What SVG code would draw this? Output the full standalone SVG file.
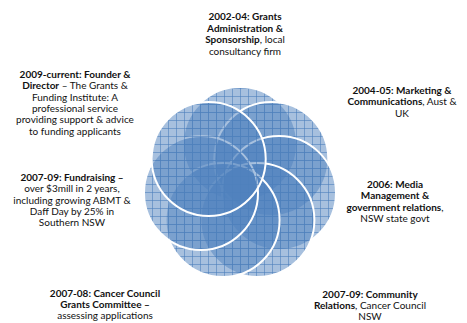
<svg xmlns="http://www.w3.org/2000/svg" width="467" height="323" viewBox="0 0 467 323">
<defs>
<pattern id="grid" width="8" height="8" patternUnits="userSpaceOnUse">
<rect width="8" height="8" fill="#4f81bd" fill-opacity="0.5"/>
<path d="M0 0.5H8M0.5 0V8" stroke="#4f81bd" stroke-opacity="0.6" stroke-width="1"/>
</pattern>
</defs>
<style>
.c{fill:url(#grid);stroke:#fff;stroke-width:2}
text{font-family:Lato,"Liberation Sans",sans-serif;font-size:10px;fill:#111;text-anchor:middle}
.b{font-weight:bold}
</style>
<g id="node-1"><circle class="c" cx="240" cy="144" r="57"/>
<text x="245" y="20"><tspan class="b">2002-04: Grants</tspan><tspan class="b" x="245" dy="11.5">Administration &amp;</tspan><tspan x="245" dy="11.5"><tspan class="b">Sponsorship</tspan>, local</tspan><tspan x="245" dy="11.5">consultancy firm</tspan></text></g>
<g id="node-2"><circle class="c" cx="271.3" cy="159" r="57"/>
<text x="402" y="94"><tspan class="b">2004-05: Marketing &amp;</tspan><tspan x="402" dy="11.3"><tspan class="b">Communications</tspan>, Aust &amp;</tspan><tspan x="402" dy="11.3">UK</tspan></text></g>
<g id="node-3"><circle class="c" cx="279" cy="192.9" r="57"/>
<text x="395" y="188"><tspan class="b">2006: Media</tspan><tspan class="b" x="395" dy="11.3">Management &amp;</tspan><tspan x="395" dy="11.3"><tspan class="b">government relations</tspan>,</tspan><tspan x="395" dy="11.3">NSW state govt</tspan></text></g>
<g id="node-4"><circle class="c" cx="257.4" cy="220" r="57"/>
<text x="370" y="298"><tspan class="b">2007-09: Community</tspan><tspan x="370" dy="11"><tspan class="b">Relations</tspan>, Cancer Council</tspan><tspan x="370" dy="11">NSW</tspan></text></g>
<g id="node-5"><circle class="c" cx="222.6" cy="220" r="57"/>
<text x="105" y="297"><tspan class="b">2007-08: Cancer Council</tspan><tspan class="b" x="105" dy="11">Grants Committee –</tspan><tspan x="105" dy="11">assessing applications</tspan></text></g>
<g id="node-6"><circle class="c" cx="201" cy="192.9" r="57"/>
<text x="72" y="181"><tspan class="b">2007-09: Fundraising –</tspan><tspan x="72" dy="11.3">over $3mill in 2 years,</tspan><tspan x="72" dy="11.3">including growing ABMT &amp;</tspan><tspan x="72" dy="11.3">Daff Day by 25% in</tspan><tspan x="72" dy="11.3">Southern NSW</tspan></text></g>
<g id="node-7"><circle class="c" cx="208.7" cy="159" r="57"/>
<text x="75" y="78"><tspan class="b">2009-current: Founder &amp;</tspan><tspan x="75" dy="11.3"><tspan class="b">Director</tspan> – The Grants &amp;</tspan><tspan x="75" dy="11.3">Funding Institute: A</tspan><tspan x="75" dy="11.3">professional service</tspan><tspan x="75" dy="11.3">providing support &amp; advice</tspan><tspan x="75" dy="11.3">to funding applicants</tspan></text></g>
</svg>
